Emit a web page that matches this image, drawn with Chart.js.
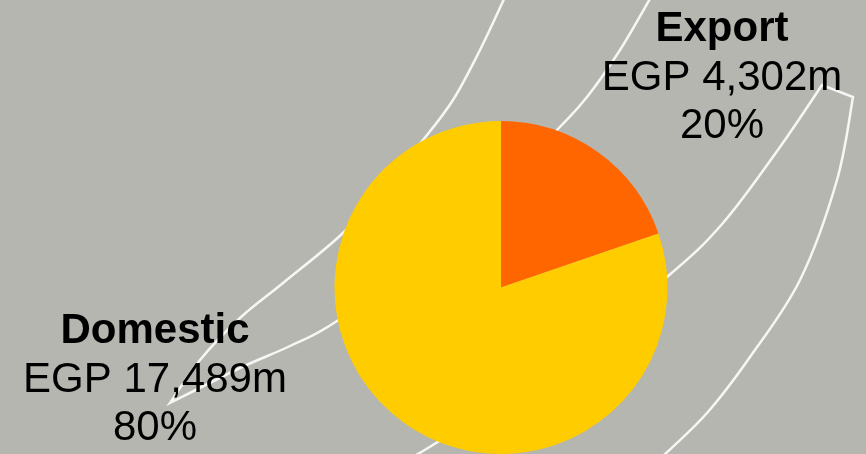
<!DOCTYPE html>
<html>
<head>
<meta charset="utf-8">
<script src="https://cdn.jsdelivr.net/npm/chart.js@4"></script>
<style>
  html, body { margin: 0; padding: 0; background: #b6b6b1; overflow: hidden; }
  #wrap { position: relative; width: 866px; height: 454px; }
  #bg, #revenueChart { position: absolute; left: 0; top: 0; }
</style>
</head>
<body>
<div id="wrap">
  <canvas id="bg" width="866" height="454"></canvas>
  <canvas id="revenueChart" width="866" height="454"></canvas>
</div>
<script>
const categories = ['Export', 'Domestic'];
const values = [4302, 17489]; // EGP m
const sliceColors = ['#ff6600', '#ffcc00'];

// where each label block is centred (x, baseline of first line)
const labelPos = [
  { x: 722, y: 41 },
  { x: 155, y: 343 }
];

// decorative white swooshes in the background (not data)
const swooshes = [
  [[[505,-3],[480,50],[453,100],[423,140],[383,187],[343,233],[283,283],[240,318],[200,360],[170,403]],
   [[170,403],[240,368],[290,346],[337,321],[450,240],[557,130],[587,97],[620,50],[651,-3]]],
  [[[412,457],[436,443],[550,370],[667,277],[723,223],[780,147],[822,85]],
   [[853,97],[837,180],[800,280],[750,357],[707,413],[663,456]]]
];

function smoothPath(c, pts, moveFirst) {
  if (moveFirst) c.moveTo(pts[0][0], pts[0][1]); else c.lineTo(pts[0][0], pts[0][1]);
  for (let i = 0; i < pts.length - 1; i++) {
    const p0 = pts[Math.max(i - 1, 0)], p1 = pts[i], p2 = pts[i + 1], p3 = pts[Math.min(i + 2, pts.length - 1)];
    c.bezierCurveTo(
      p1[0] + (p2[0] - p0[0]) / 6, p1[1] + (p2[1] - p0[1]) / 6,
      p2[0] - (p3[0] - p1[0]) / 6, p2[1] - (p3[1] - p1[1]) / 6,
      p2[0], p2[1]);
  }
}

const bg = document.getElementById('bg').getContext('2d');
bg.strokeStyle = '#f6f6f4';
bg.lineWidth = 2.5;
bg.lineJoin = 'miter';
swooshes.forEach(s => {
  bg.beginPath();
  smoothPath(bg, s[0], true);
  smoothPath(bg, s[1], false);
  bg.stroke();
});

const total = values.reduce((a, b) => a + b, 0);

const labelPlugin = {
  id: 'sliceLabels',
  afterDraw(chart) {
    const c = chart.ctx;
    c.save();
    c.fillStyle = '#000';
    c.textAlign = 'center';
    c.textBaseline = 'alphabetic';
    categories.forEach((name, i) => {
      const p = labelPos[i];
      const pct = Math.round(values[i] / total * 100) + '%';
      c.font = 'bold 42px "Liberation Sans", Arial, sans-serif';
      c.fillText(name, p.x, p.y);
      c.font = '42px "Liberation Sans", Arial, sans-serif';
      c.fillText('EGP ' + values[i].toLocaleString('en-US') + 'm', p.x, p.y + 49);
      c.fillText(pct, p.x, p.y + 97);
    });
    c.restore();
  }
};

const ctx = document.getElementById('revenueChart').getContext('2d');
const myChart = new Chart(ctx, {
  type: 'pie',
  data: {
    labels: categories,
    datasets: [{
      data: values,
      backgroundColor: sliceColors,
      borderWidth: 0
    }]
  },
  options: {
    responsive: false,
    animation: false,
    layout: {
      padding: { left: 334, right: 198, top: 121, bottom: 0 }
    },
    plugins: {
      legend: { display: false },
      tooltip: { enabled: false }
    }
  },
  plugins: [labelPlugin]
});
</script>
</body>
</html>
